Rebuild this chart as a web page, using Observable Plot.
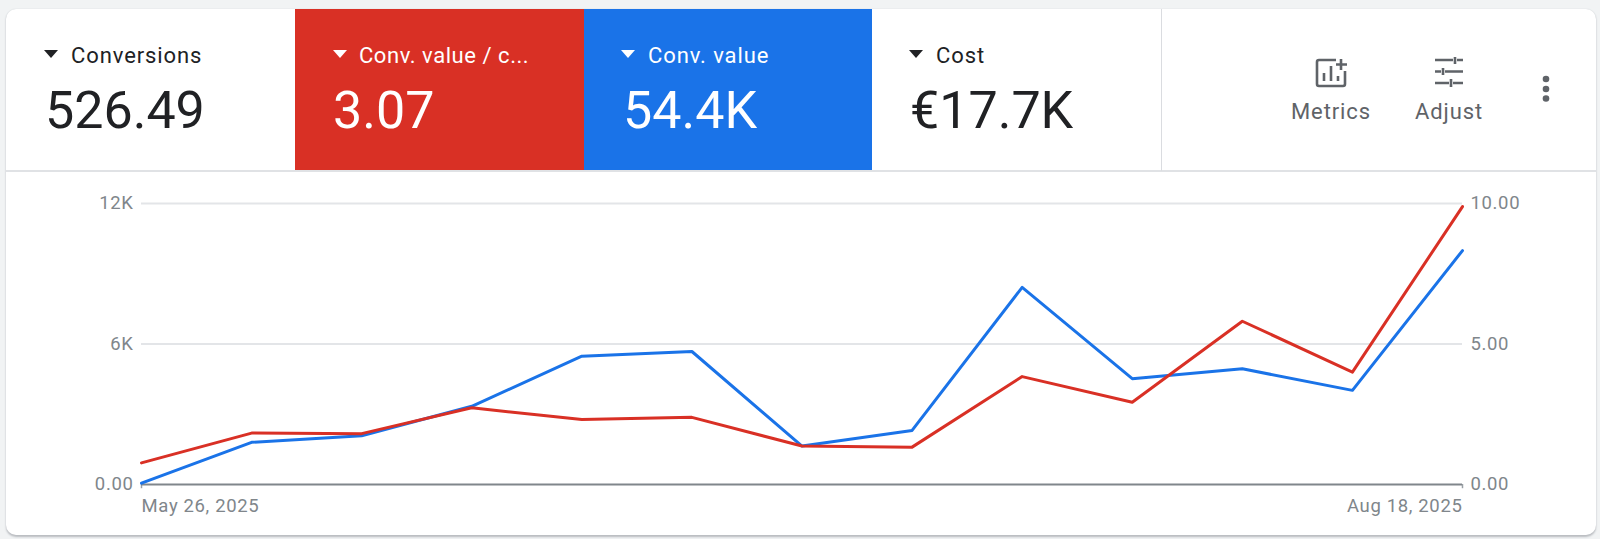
<!DOCTYPE html>
<html><head><meta charset="utf-8">
<script src="https://cdn.jsdelivr.net/npm/d3@7"></script>
<script src="https://cdn.jsdelivr.net/npm/@observablehq/plot@0.6"></script>
<style>
html,body{margin:0;padding:0;width:1600px;height:539px;overflow:hidden;background:#f1f3f4;font-family:Roboto,sans-serif}
#card{position:absolute;left:6px;top:9px;width:1590px;height:526px;background:#fff;border-radius:10px;box-shadow:0 1.5px 2px #b9bcc0,0 0 1px #d5d7da;overflow:hidden}
#root{position:absolute;left:0;top:0;width:1600px;height:539px}
.tab{position:absolute;top:9px;height:162px}
.tab.red{left:295px;width:289px;background:#d93025}
.tab.blue{left:584px;width:288px;background:#1a73e8}
.hline{position:absolute;left:6px;width:1590px;top:170px;height:1.5px;background:#e0e2e5}
.vline{position:absolute;left:1161px;top:9px;width:1px;height:162px;background:#dadce0}
.lab,.val,.act,.tri{position:absolute;white-space:nowrap}
.lab{font-size:22px;letter-spacing:.9px;line-height:24px;top:44px;color:#202124}
.val{font-size:52px;line-height:60px;top:81px;color:#202124;font-weight:400}
.act{font-size:22px;letter-spacing:.9px;line-height:24px;top:100px;color:#5f6368;transform:translateX(-50%)}
.w{color:#fff}
.tri{top:50px;width:0;height:0;border-left:7.5px solid transparent;border-right:7.5px solid transparent;border-top:8px solid #202124}
.tri.w{border-top-color:#fff}
svg.ico{position:absolute}
#chart{position:absolute;left:0;top:0}
#chart svg text{letter-spacing:.65px}
</style></head><body>
<div id="root">
 <div id="card"></div>
 <div class="tab red"></div><div class="tab blue"></div>
 <div class="hline"></div><div class="vline"></div>
 <div id="chart"></div>

 <div class="tri" style="left:44px"></div><div class="lab" style="left:71px">Conversions</div><div class="val" style="left:45px">526.49</div>
 <div class="tri w" style="left:333px"></div><div class="lab w" style="left:359px;letter-spacing:.55px">Conv. value / c...</div><div class="val w" style="left:333px">3.07</div>
 <div class="tri w" style="left:621px"></div><div class="lab w" style="left:648px">Conv. value</div><div class="val w" style="left:623px">54.4K</div>
 <div class="tri" style="left:909px"></div><div class="lab" style="left:936px">Cost</div><div class="val" style="left:910px">€17.7K</div>

 <svg class="ico" style="left:1314px;top:57px" width="36" height="32" viewBox="0 0 36 32" fill="none" stroke="#5f6368" stroke-width="2.6">
  <path d="M22 3H5a2 2 0 0 0-2 2v22a2 2 0 0 0 2 2h24a2 2 0 0 0 2-2V14"/>
  <path d="M10 24v-8M17 24V9M24 24v-5"/>
  <path d="M27 2v11M22 7.500h11"/>
 </svg>
 <svg class="ico" style="left:1433px;top:56px" width="32" height="32" viewBox="0 0 32 32" fill="none" stroke="#5f6368" stroke-width="2.6">
  <path d="M2 4h18M24 4h6M22 1v7"/>
  <path d="M2 15.500h6M12 15.500h18M10 12v7"/>
  <path d="M2 27h14M20 27h10M18 23v8"/>
 </svg>
 <svg class="ico" style="left:1540px;top:74px" width="12" height="30" viewBox="0 0 12 30" fill="#5f6368">
  <circle cx="6" cy="5" r="3.300"/><circle cx="6" cy="15" r="3.300"/><circle cx="6" cy="24.500" r="3.300"/>
 </svg>
 <div class="act" style="left:1331px">Metrics</div>
 <div class="act" style="left:1449px">Adjust</div>
</div>
<script>
const weeks = ["2025-05-26","2025-06-02","2025-06-09","2025-06-16","2025-06-23","2025-06-30","2025-07-07","2025-07-14","2025-07-21","2025-07-28","2025-08-04","2025-08-11","2025-08-18"];
const convValue = [57,1800,2080,3340,5480,5680,1640,2310,8420,4520,4940,4020,9990];
const convValuePerCost = [0.77,1.83,1.81,2.73,2.31,2.39,1.37,1.33,3.84,2.93,5.81,4.00,9.89];
const leftTicks = [0,6000,12000];
const leftLabels = ["0.00","6K","12K"];
const rightLabels = ["0.00","5.00","10.00"];
const axisRatio = 12000/10;
const dateLabels = ["May 26, 2025","Aug 18, 2025"];

const dates = weeks.map(d=>new Date(d+"T00:00:00Z"));
const blue = dates.map((d,i)=>({d,v:convValue[i]}));
const red = dates.map((d,i)=>({d,v:convValuePerCost[i]*axisRatio}));
const ends = [dates[0],dates[dates.length-1]];
const gray = "#80868b";

const plot = Plot.plot({
  width:1600,height:539,
  marginLeft:141,marginRight:138,marginTop:203,marginBottom:55,
  style:{background:"transparent",fontFamily:"Roboto,sans-serif",fontSize:"18.5px",overflow:"visible"},
  x:{type:"utc",domain:[dates[0],dates[dates.length-1]],axis:null},
  y:{domain:[0,12000],axis:null},
  marks:[
    Plot.ruleY(leftTicks.slice(1),{stroke:"#e3e5e8",strokeWidth:2}),
    Plot.ruleX(ends,{y1:0,y2:-180,stroke:"#9aa0a6",strokeWidth:1.5}),
    Plot.ruleY([0],{stroke:"#80868b",strokeWidth:2}),
    Plot.axisY({anchor:"left",ticks:leftTicks,tickSize:0,tickPadding:8,label:null,color:gray,
      tickFormat:d=>leftLabels[leftTicks.indexOf(d)]}),
    Plot.axisY({anchor:"right",ticks:leftTicks,tickSize:0,tickPadding:8,label:null,color:gray,
      tickFormat:d=>rightLabels[leftTicks.indexOf(d)]}),
    Plot.line(blue,{x:"d",y:"v",stroke:"#1a73e8",strokeWidth:3,curve:"linear"}),
    Plot.line(red,{x:"d",y:"v",stroke:"#d93025",strokeWidth:3,curve:"linear"}),
    Plot.text([0],{x:()=>ends[0],y:0,text:()=>dateLabels[0],textAnchor:"start",dy:22,fill:gray}),
    Plot.text([0],{x:()=>ends[1],y:0,text:()=>dateLabels[1],textAnchor:"end",dy:22,fill:gray})
  ]
});
document.getElementById("chart").appendChild(plot);
</script>
</body></html>
